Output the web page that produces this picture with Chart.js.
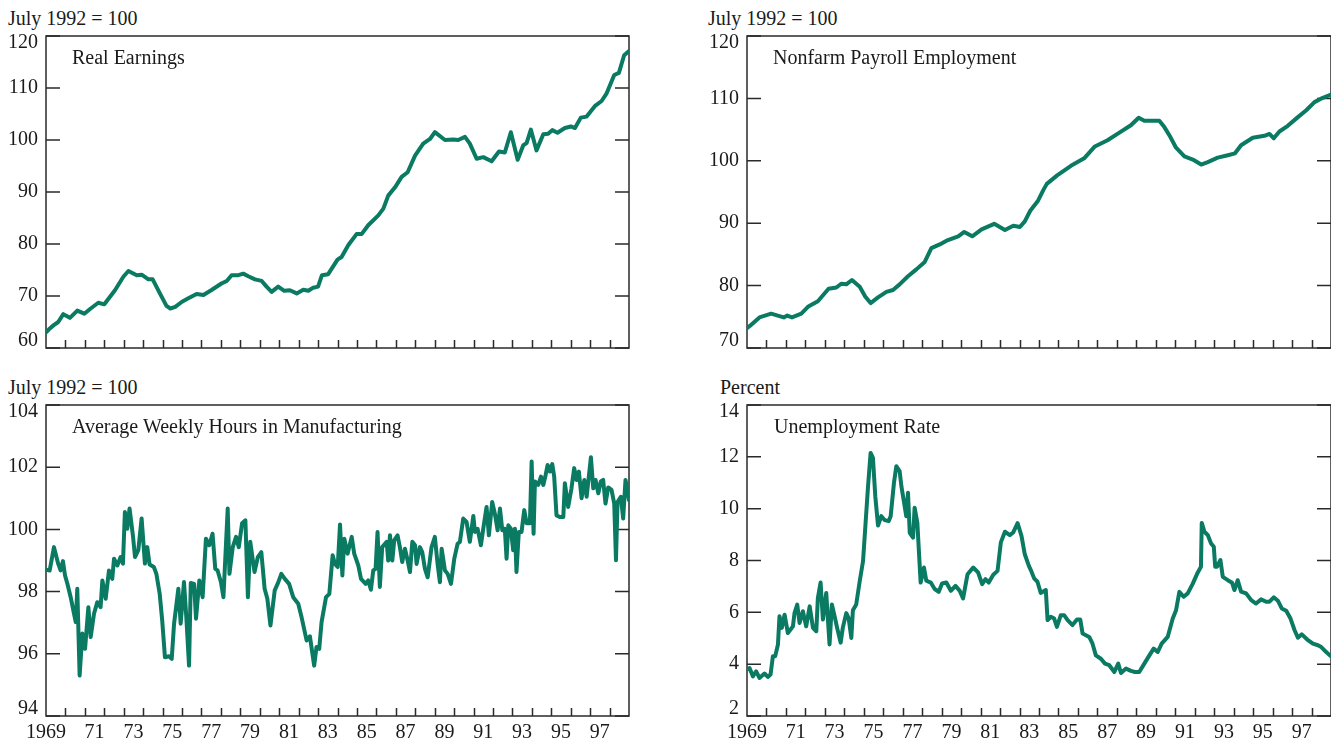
<!DOCTYPE html>
<html>
<head>
<meta charset="utf-8">
<script src="https://cdn.jsdelivr.net/npm/chart.js@4.4.1/dist/chart.umd.min.js"></script>
<style>
    html, body { margin: 0; padding: 0; background: #fff; }
    body { width: 1331px; height: 745px; position: relative; overflow: hidden;
           font-family: "Liberation Serif", "Times New Roman", serif; color: #1a1a1a; }
    canvas { position: absolute; }
    .txt { position: absolute; font-size: 20px; line-height: 20px; white-space: nowrap; }
</style>
</head>
<body>
<div class="txt" style="left:8px;top:8px;">July 1992 = 100</div>
<div class="txt" style="left:708px;top:8px;">July 1992 = 100</div>
<div class="txt" style="left:8px;top:377px;">July 1992 = 100</div>
<div class="txt" style="left:720px;top:377px;">Percent</div>

<canvas id="earnings" width="640" height="356" style="left:0;top:14px;"></canvas>
<canvas id="payroll" width="630" height="356" style="left:701px;top:14px;"></canvas>
<canvas id="hours" width="640" height="361" style="left:0;top:383px;"></canvas>
<canvas id="unemp" width="630" height="361" style="left:701px;top:383px;"></canvas>

<div class="txt" style="left:72px;top:47px;">Real Earnings</div>
<div class="txt" style="left:773px;top:47px;">Nonfarm Payroll Employment</div>
<div class="txt" style="left:72px;top:416px;">Average Weekly Hours in Manufacturing</div>
<div class="txt" style="left:774px;top:416px;">Unemployment Rate</div>

<script>
// x axis: labels sit in the middle of each labelled year ("1969" hangs on the left edge)
const xLabels = ['1969', '71', '73', '75', '77', '79', '81', '83', '85', '87', '89', '91', '93', '95', '97'];
const xLabelYears = [1969.0, 1971.5, 1973.5, 1975.5, 1977.5, 1979.5, 1981.5, 1983.5, 1985.5, 1987.5, 1989.5, 1991.5, 1993.5, 1995.5, 1997.5];

// Real earnings, July 1992 = 100
const earningsYears = [1969.0, 1969.15, 1969.4, 1969.63, 1969.89, 1970.23, 1970.61, 1970.97, 1971.3, 1971.69, 1972.0, 1972.55, 1972.98, 1973.24, 1973.67, 1973.92, 1974.27, 1974.49, 1974.86, 1975.2, 1975.4, 1975.65, 1976.0, 1976.3, 1976.75, 1977.1, 1977.5, 1978.03, 1978.3, 1978.55, 1978.9, 1979.15, 1979.41, 1979.75, 1980.1, 1980.35, 1980.61, 1980.95, 1981.26, 1981.55, 1981.9, 1982.24, 1982.5, 1982.75, 1983.0, 1983.2, 1983.52, 1984.0, 1984.21, 1984.56, 1984.98, 1985.24, 1985.58, 1986.1, 1986.36, 1986.61, 1986.96, 1987.3, 1987.61, 1987.99, 1988.41, 1988.76, 1989.01, 1989.53, 1989.96, 1990.21, 1990.56, 1990.81, 1991.16, 1991.5, 1991.93, 1992.31, 1992.61, 1992.92, 1993.27, 1993.56, 1993.73, 1993.95, 1994.24, 1994.59, 1994.84, 1995.05, 1995.32, 1995.7, 1996.01, 1996.22, 1996.52, 1996.82, 1997.24, 1997.59, 1997.84, 1998.24, 1998.48, 1998.75, 1999.0];
const earningsValues = [63.0, 63.6, 64.4, 65.0, 66.5, 65.8, 67.2, 66.6, 67.6, 68.7, 68.4, 71.1, 73.7, 74.8, 74.0, 74.1, 73.2, 73.2, 70.5, 68.1, 67.6, 67.9, 68.9, 69.5, 70.4, 70.2, 71.1, 72.4, 72.9, 74.0, 74.0, 74.3, 73.8, 73.2, 72.9, 71.8, 70.8, 71.8, 71.0, 71.1, 70.5, 71.2, 71.0, 71.6, 71.8, 74.0, 74.2, 77.0, 77.5, 79.8, 81.9, 81.9, 83.6, 85.5, 86.8, 89.3, 90.9, 92.9, 93.8, 97.0, 99.3, 100.2, 101.5, 100.0, 100.1, 100.0, 100.6, 99.3, 96.4, 96.7, 95.9, 97.8, 97.6, 101.5, 96.2, 99.0, 99.4, 102.0, 98.0, 101.1, 101.2, 101.9, 101.4, 102.3, 102.6, 102.3, 104.3, 104.5, 106.5, 107.5, 108.9, 112.5, 112.9, 116.3, 117.1];

// Nonfarm payroll employment, July 1992 = 100
const payrollYears = [1969.0, 1969.13, 1969.64, 1970.24, 1970.58, 1970.89, 1971.07, 1971.31, 1971.79, 1972.13, 1972.64, 1973.19, 1973.59, 1973.84, 1974.1, 1974.39, 1974.79, 1975.08, 1975.35, 1975.73, 1976.16, 1976.5, 1976.84, 1977.27, 1977.7, 1978.13, 1978.47, 1978.9, 1979.25, 1979.85, 1980.16, 1980.57, 1981.05, 1981.7, 1982.25, 1982.68, 1983.02, 1983.27, 1983.55, 1983.95, 1984.22, 1984.4, 1984.95, 1985.64, 1986.32, 1986.87, 1987.52, 1988.07, 1988.72, 1989.12, 1989.41, 1989.75, 1990.18, 1990.44, 1990.75, 1991.04, 1991.47, 1991.9, 1992.33, 1992.67, 1993.18, 1993.7, 1994.07, 1994.38, 1994.98, 1995.58, 1995.84, 1996.06, 1996.35, 1996.78, 1997.3, 1997.73, 1998.15, 1998.58, 1999.0];
const payrollValues = [73.2, 73.5, 74.9, 75.5, 75.2, 74.9, 75.2, 74.9, 75.5, 76.6, 77.5, 79.5, 79.7, 80.3, 80.2, 80.9, 79.8, 78.2, 77.2, 78.1, 79.0, 79.3, 80.2, 81.5, 82.6, 83.8, 86.0, 86.6, 87.2, 87.9, 88.6, 87.9, 89.0, 89.9, 88.9, 89.6, 89.4, 90.3, 92.0, 93.6, 95.3, 96.3, 97.7, 99.2, 100.4, 102.3, 103.3, 104.4, 105.7, 106.9, 106.4, 106.4, 106.4, 105.4, 103.8, 102.1, 100.7, 100.2, 99.4, 99.8, 100.5, 100.9, 101.2, 102.5, 103.7, 104.0, 104.3, 103.6, 104.7, 105.6, 107.0, 108.1, 109.4, 110.1, 110.6];

// Average weekly hours in manufacturing, July 1992 = 100
const hoursYears = [1969.05, 1969.19, 1969.41, 1969.63, 1969.75, 1969.87, 1969.98, 1970.1, 1970.27, 1970.44, 1970.53, 1970.61, 1970.73, 1970.87, 1971.01, 1971.18, 1971.3, 1971.47, 1971.64, 1971.81, 1971.9, 1972.07, 1972.24, 1972.41, 1972.5, 1972.67, 1972.84, 1972.96, 1973.06, 1973.18, 1973.3, 1973.48, 1973.58, 1973.75, 1973.92, 1974.09, 1974.21, 1974.33, 1974.55, 1974.68, 1974.85, 1974.98, 1975.12, 1975.33, 1975.47, 1975.59, 1975.81, 1975.93, 1976.1, 1976.22, 1976.36, 1976.45, 1976.62, 1976.72, 1976.89, 1977.06, 1977.23, 1977.4, 1977.57, 1977.71, 1977.83, 1978.0, 1978.13, 1978.35, 1978.44, 1978.61, 1978.78, 1978.92, 1979.09, 1979.26, 1979.39, 1979.51, 1979.73, 1979.9, 1980.08, 1980.25, 1980.39, 1980.55, 1980.77, 1980.94, 1981.11, 1981.29, 1981.51, 1981.72, 1981.98, 1982.15, 1982.41, 1982.58, 1982.8, 1982.92, 1983.06, 1983.18, 1983.41, 1983.58, 1983.75, 1983.87, 1984.01, 1984.13, 1984.25, 1984.35, 1984.52, 1984.73, 1984.86, 1985.07, 1985.21, 1985.45, 1985.58, 1985.72, 1985.84, 1985.96, 1986.06, 1986.18, 1986.3, 1986.53, 1986.61, 1986.7, 1986.82, 1986.92, 1987.09, 1987.21, 1987.33, 1987.47, 1987.61, 1987.73, 1987.85, 1987.99, 1988.07, 1988.24, 1988.36, 1988.5, 1988.64, 1988.84, 1989.01, 1989.15, 1989.27, 1989.36, 1989.53, 1989.67, 1989.84, 1990.01, 1990.18, 1990.3, 1990.47, 1990.64, 1990.81, 1990.99, 1991.07, 1991.21, 1991.38, 1991.5, 1991.67, 1991.79, 1991.96, 1992.1, 1992.24, 1992.36, 1992.48, 1992.61, 1992.7, 1992.79, 1992.92, 1993.04, 1993.13, 1993.21, 1993.33, 1993.47, 1993.61, 1993.73, 1993.9, 1993.99, 1994.09, 1994.16, 1994.33, 1994.47, 1994.59, 1994.71, 1994.81, 1994.93, 1995.05, 1995.15, 1995.27, 1995.44, 1995.62, 1995.7, 1995.87, 1996.04, 1996.18, 1996.3, 1996.42, 1996.56, 1996.7, 1996.82, 1997.04, 1997.16, 1997.28, 1997.42, 1997.55, 1997.67, 1997.79, 1997.93, 1998.1, 1998.24, 1998.33, 1998.41, 1998.58, 1998.7, 1998.82, 1998.93, 1999.0];
const hoursValues = [98.7, 98.68, 99.43, 98.89, 98.68, 98.98, 98.52, 98.25, 97.82, 97.29, 97.02, 98.09, 95.3, 96.65, 96.16, 97.5, 96.54, 97.29, 97.66, 97.5, 98.36, 97.77, 98.68, 98.41, 99.06, 98.84, 99.11, 98.9, 100.56, 100.02, 100.67, 99.76, 99.11, 99.33, 100.35, 98.9, 99.43, 98.87, 98.79, 98.57, 97.93, 97.07, 95.89, 95.92, 95.84, 96.97, 98.09, 96.97, 98.31, 97.18, 95.62, 98.28, 98.25, 97.13, 98.36, 97.82, 99.7, 99.49, 99.86, 98.73, 98.68, 98.31, 97.82, 100.67, 98.57, 99.43, 99.76, 99.43, 100.2, 100.29, 97.82, 99.6, 98.63, 99.11, 99.27, 98.09, 97.77, 96.91, 98.04, 98.28, 98.57, 98.41, 98.25, 97.82, 97.61, 97.18, 96.43, 96.56, 95.62, 96.22, 96.16, 97.02, 97.82, 97.93, 99.17, 98.89, 98.79, 100.16, 98.52, 99.7, 99.22, 99.76, 99.22, 98.84, 98.41, 98.25, 98.36, 98.06, 98.68, 98.73, 99.92, 98.15, 99.43, 99.6, 99.0, 99.81, 99.0, 99.65, 99.81, 99.43, 98.95, 99.38, 99.0, 98.63, 99.6, 99.49, 98.89, 99.43, 99.27, 98.73, 98.46, 99.43, 99.76, 98.89, 98.3, 99.38, 98.68, 98.57, 98.25, 99.06, 99.54, 99.6, 100.35, 100.24, 99.6, 100.43, 99.92, 100.02, 99.49, 100.02, 100.72, 99.81, 100.88, 100.5, 99.97, 100.67, 99.97, 100.02, 99.06, 100.13, 100.02, 99.33, 100.02, 98.63, 99.92, 99.92, 100.62, 100.2, 100.2, 102.18, 99.86, 101.54, 101.43, 101.7, 101.43, 101.75, 102.07, 101.86, 102.1, 101.7, 100.45, 100.4, 100.4, 101.48, 100.72, 101.32, 101.97, 101.59, 101.86, 101.0, 101.59, 101.05, 102.32, 101.32, 101.59, 101.16, 101.54, 101.59, 100.83, 101.35, 101.27, 100.83, 99.01, 100.88, 101.05, 100.35, 101.59, 101.22, 100.94];

// Unemployment rate, percent
const unempYears = [1969.0, 1969.13, 1969.3, 1969.47, 1969.64, 1969.9, 1970.07, 1970.21, 1970.33, 1970.45, 1970.59, 1970.67, 1970.79, 1970.93, 1971.1, 1971.36, 1971.44, 1971.58, 1971.7, 1971.87, 1972.04, 1972.22, 1972.39, 1972.56, 1972.64, 1972.78, 1972.9, 1973.07, 1973.24, 1973.36, 1973.5, 1973.63, 1973.81, 1973.92, 1974.1, 1974.22, 1974.36, 1974.44, 1974.61, 1974.79, 1974.96, 1975.08, 1975.22, 1975.35, 1975.47, 1975.59, 1975.73, 1975.9, 1976.07, 1976.28, 1976.38, 1976.55, 1976.67, 1976.84, 1976.93, 1977.07, 1977.18, 1977.27, 1977.36, 1977.53, 1977.61, 1977.75, 1977.92, 1978.09, 1978.21, 1978.44, 1978.64, 1978.85, 1979.02, 1979.24, 1979.47, 1979.71, 1979.93, 1980.1, 1980.33, 1980.62, 1980.87, 1981.08, 1981.25, 1981.42, 1981.65, 1981.87, 1982.04, 1982.25, 1982.5, 1982.67, 1982.9, 1983.1, 1983.27, 1983.48, 1983.58, 1983.75, 1983.92, 1984.09, 1984.35, 1984.44, 1984.61, 1984.78, 1984.92, 1985.12, 1985.29, 1985.47, 1985.72, 1985.95, 1986.12, 1986.24, 1986.58, 1986.75, 1986.92, 1987.18, 1987.39, 1987.61, 1987.87, 1988.07, 1988.21, 1988.47, 1988.72, 1988.93, 1989.15, 1989.41, 1989.67, 1989.89, 1990.1, 1990.3, 1990.61, 1990.87, 1991.04, 1991.21, 1991.43, 1991.64, 1991.9, 1992.15, 1992.32, 1992.36, 1992.5, 1992.67, 1992.84, 1992.98, 1993.05, 1993.15, 1993.32, 1993.44, 1993.7, 1993.92, 1994.04, 1994.21, 1994.38, 1994.64, 1994.9, 1995.15, 1995.41, 1995.67, 1995.84, 1996.06, 1996.27, 1996.47, 1996.7, 1996.92, 1997.13, 1997.3, 1997.5, 1997.78, 1998.07, 1998.33, 1998.5, 1998.67, 1999.0];
const unempValues = [3.8, 3.85, 3.53, 3.72, 3.47, 3.64, 3.51, 3.6, 4.31, 4.31, 4.76, 5.85, 5.4, 5.91, 5.2, 5.46, 5.97, 6.3, 5.59, 6.04, 5.46, 6.23, 5.4, 5.27, 6.55, 7.15, 5.72, 6.75, 4.76, 6.3, 5.85, 5.4, 4.83, 5.4, 5.97, 5.78, 5.01, 6.08, 6.3, 7.2, 7.97, 9.32, 10.89, 12.15, 11.96, 10.48, 9.35, 9.71, 9.56, 9.52, 9.71, 11.0, 11.64, 11.45, 10.87, 10.23, 9.71, 10.61, 9.07, 8.88, 10.04, 9.46, 7.15, 7.73, 7.22, 7.15, 6.9, 6.79, 7.11, 7.15, 6.83, 7.02, 6.83, 6.54, 7.47, 7.73, 7.54, 7.09, 7.28, 7.15, 7.45, 7.6, 8.7, 9.11, 8.98, 9.08, 9.44, 8.95, 8.24, 7.79, 7.63, 7.31, 7.18, 6.75, 6.86, 5.7, 5.83, 5.76, 5.44, 5.89, 5.89, 5.7, 5.51, 5.72, 5.72, 5.18, 5.05, 4.79, 4.34, 4.21, 4.02, 3.96, 3.7, 4.02, 3.66, 3.83, 3.74, 3.7, 3.7, 4.02, 4.34, 4.6, 4.47, 4.79, 5.05, 5.76, 6.08, 6.79, 6.6, 6.73, 7.11, 7.53, 7.76, 9.45, 9.11, 8.98, 8.66, 8.53, 7.76, 7.76, 8.02, 7.37, 7.24, 7.14, 6.86, 7.24, 6.8, 6.73, 6.47, 6.34, 6.5, 6.41, 6.41, 6.58, 6.45, 6.15, 6.06, 5.76, 5.31, 5.02, 5.15, 4.95, 4.79, 4.73, 4.66, 4.53, 4.3];

const LINE_COLOR = '#0a7a62';
const FAMILY = '"Liberation Serif", "Times New Roman", serif';

// box round the plot, inward ticks on both sides and at each year
const frameTicks = {
    id: 'frameTicks',
    beforeDatasetsDraw(chart) {
        const { ctx, chartArea: a, scales: { x, y } } = chart;
        ctx.save();
        ctx.strokeStyle = '#2a2a2a';
        ctx.lineWidth = 1.5;
        ctx.strokeRect(a.left, a.top, a.right - a.left, a.bottom - a.top);
        ctx.beginPath();
        for (let yr = 1970; yr <= 1998; yr++) {
            const px = Math.round(x.getPixelForValue(yr)) + 0.5;
            ctx.moveTo(px, a.bottom);
            ctx.lineTo(px, a.bottom - 8);
        }
        y.ticks.forEach(t => {
            const py = y.getPixelForValue(t.value);
            ctx.moveTo(a.left, py);
            ctx.lineTo(a.left + 14, py);
            ctx.moveTo(a.right, py);
            ctx.lineTo(a.right - 14, py);
        });
        ctx.stroke();
        ctx.restore();
    }
};

// end labels are nudged inside the box, the way the original prints them
function yLabel(value, index, ticks) {
    if (index === 0) return [String(value), ''];
    if (index === ticks.length - 1) return ['', String(value)];
    return String(value);
}

function makePanel(id, years, values, yMin, yMax, yStep, showX, rightPad, xHeight) {
    const points = years.map((yr, i) => ({ x: yr, y: values[i] }));
    return new Chart(document.getElementById(id), {
        type: 'line',
        data: {
            datasets: [{
                data: points,
                borderColor: LINE_COLOR,
                borderWidth: 4,
                pointRadius: 0,
                tension: 0,
                borderJoinStyle: 'round',
                borderCapStyle: 'round'
            }]
        },
        options: {
            responsive: false,
            animation: false,
            events: [],
            layout: { padding: { top: 22, right: rightPad, bottom: 0, left: 0 } },
            plugins: { legend: { display: false }, tooltip: { enabled: false } },
            scales: {
                x: {
                    type: 'linear',
                    min: 1969,
                    max: 1999,
                    grid: { display: false, drawTicks: false },
                    border: { display: false },
                    afterBuildTicks: s => { s.ticks = xLabelYears.map(v => ({ value: v })); },
                    afterFit: s => { s.height = xHeight; },
                    ticks: {
                        display: showX,
                        autoSkip: false,
                        maxRotation: 0,
                        padding: 5,
                        color: '#1a1a1a',
                        font: { family: FAMILY, size: 20 },
                        callback: (v, i) => xLabels[i]
                    }
                },
                y: {
                    min: yMin,
                    max: yMax,
                    grid: { display: false, drawTicks: false },
                    border: { display: false },
                    afterFit: s => { s.width = 46; },
                    ticks: {
                        stepSize: yStep,
                        padding: 8,
                        color: '#1a1a1a',
                        font: { family: FAMILY, size: 20, lineHeight: 0.7 },
                        callback: yLabel
                    }
                }
            }
        },
        plugins: [frameTicks]
    });
}

makePanel('earnings', earningsYears, earningsValues, 60, 120, 10, false, 11, 22);
makePanel('payroll', payrollYears, payrollValues, 70, 120, 10, false, 0, 22);
makePanel('hours', hoursYears, hoursValues, 94, 104, 2, true, 11, 28);
makePanel('unemp', unempYears, unempValues, 2, 14, 2, true, 0, 28);
</script>
</body>
</html>
